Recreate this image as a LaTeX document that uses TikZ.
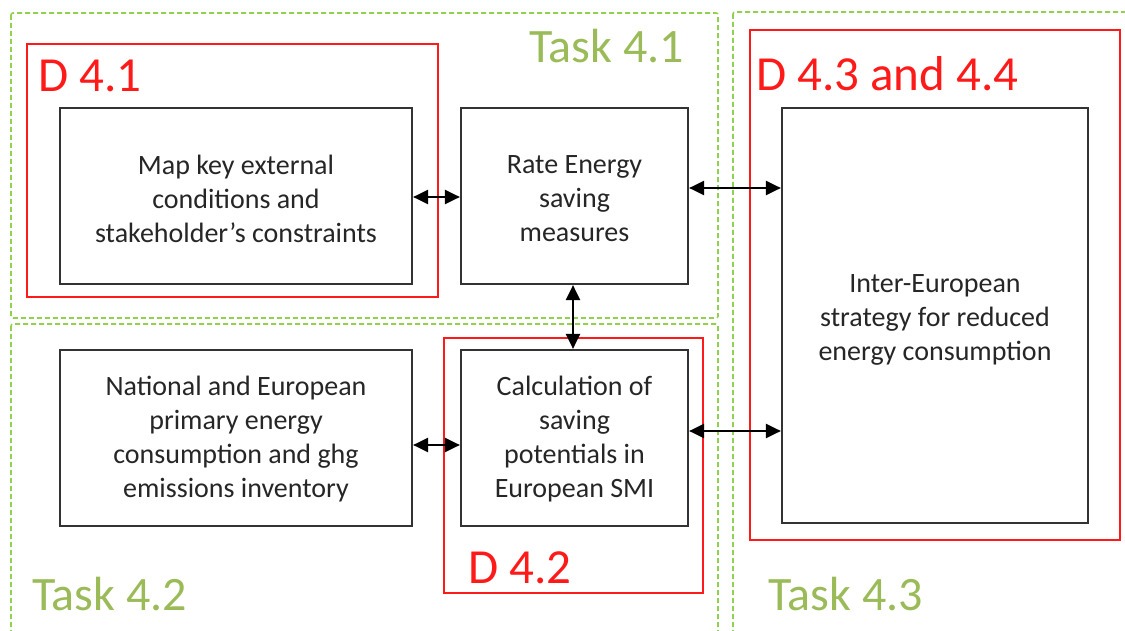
\documentclass[tikz,border=0pt]{standalone}
\usepackage{fontspec}
\setmainfont{Carlito}
\usetikzlibrary{arrows.meta}
\definecolor{taskgreen}{HTML}{92D050}
\definecolor{tasktext}{HTML}{9BBB59}
\definecolor{delred}{HTML}{FF1A1A}
\definecolor{boxline}{HTML}{333333}
\definecolor{bodytext}{HTML}{262626}
\begin{document}
\begin{tikzpicture}[x=1pt,y=-1pt,
  taskframe/.style={draw=taskgreen, line width=1.6pt, dash pattern=on 5pt off 3pt, rounded corners=2pt},
  delframe/.style={draw=delred, line width=2pt},
  blk/.style={draw=boxline, line width=2.2pt, fill=white, inner sep=0pt},
  blktext/.style={align=center, text=bodytext, font=\fontsize{28}{34}\selectfont, inner sep=0pt},
  tasklabel/.style={text=tasktext, font=\fontsize{48}{48}\selectfont, anchor=base west, inner sep=0pt},
  dellabel/.style={text=delred, font=\fontsize{49}{49}\selectfont, anchor=base west, inner sep=0pt},
  tip/.tip={Triangle[length=15pt,width=14pt]},
  link/.style={tip-tip, line width=2.2pt, draw=black}
]
\useasboundingbox (0,0) rectangle (1125,631);
\clip (0,0) rectangle (1125,631);

% task areas (dashed green)
\draw[taskframe] (11,13) rectangle (718,318);
\draw[taskframe] (11,324) rectangle (718,660);
\draw[taskframe] (733,12) rectangle (1160,660);

\node[tasklabel] (t41) at (529,63) {Task 4.1};
\node[tasklabel] (t42) at (32,610) {Task 4.2};
\node[tasklabel] (t43) at (768,610) {Task 4.3};

% deliverables (red)
\draw[delframe] (27,44) rectangle (438,297);
\draw[delframe] (444,338) rectangle (703,593);
\draw[delframe] (750,30) rectangle (1120,540);

\node[dellabel] (d41) at (38,92) {D 4.1};
\node[dellabel] (d42) at (468,583) {D 4.2};
\node[dellabel] (d43) at (756,91) {D 4.3 and 4.4};

% work blocks
\node[blk, minimum width=352pt, minimum height=176pt] (map) at (236,196) {};
\node[blk, minimum width=227pt, minimum height=176pt] (rate) at (574.5,196) {};
\node[blk, minimum width=352pt, minimum height=176pt] (nat) at (236,438) {};
\node[blk, minimum width=227pt, minimum height=176pt] (calc) at (574.5,438) {};
\node[blk, minimum width=306pt, minimum height=415pt] (inter) at (935,315.5) {};

% their texts
\node[blktext] (map-t) at ([yshift=-3pt]map.center)
  {Map key external\\conditions and\\stakeholder’s constraints};
\node[blktext] (rate-t) at ([yshift=-3pt]rate.center)
  {Rate Energy\\saving\\measures};
\node[blktext] (nat-t) at ([yshift=-1pt]nat.center)
  {National and European\\primary energy\\consumption and ghg\\emissions inventory};
\node[blktext] (calc-t) at ([yshift=-1pt]calc.center)
  {Calculation of\\saving\\potentials in\\European SMI};
\node[blktext] (inter-t) at ([yshift=-4pt]inter.center)
  {Inter-European\\strategy for reduced\\energy consumption};

% links between blocks
\draw[link] (map.east |- 0,197) -- (rate.west |- 0,197);
\draw[link] (rate.east |- 0,188) -- (inter.west |- 0,188);
\draw[link] (rate.south -| 573,0) -- (calc.north -| 573,0);
\draw[link] (nat.east |- 0,445) -- (calc.west |- 0,445);
\draw[link] (calc.east |- 0,431) -- (inter.west |- 0,431);
\end{tikzpicture}
\end{document}
